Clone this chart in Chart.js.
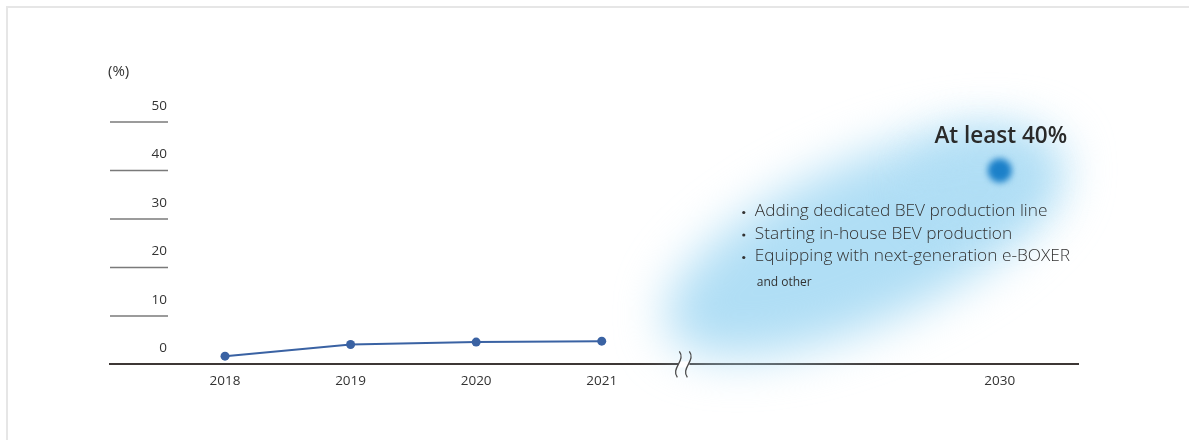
<!DOCTYPE html>
<html>
<head>
<meta charset="utf-8">
<script src="https://cdn.jsdelivr.net/npm/chart.js@4.4.0/dist/chart.umd.min.js"></script>
<style>
  html, body { margin: 0; padding: 0; background: #fff; }
  #wrap { position: relative; width: 1195px; height: 440px; overflow: hidden; }
  #wrap canvas { position: absolute; left: 0; top: 0; }
  #frame {
    position: absolute; left: 6px; top: 6px; width: 1183px; height: 440px;
    border-top: 2px solid #e6e6e6; border-left: 2px solid #e6e6e6;
    box-sizing: border-box; pointer-events: none;
  }
</style>
</head>
<body>
<div id="wrap">
  <canvas id="chart" width="1195" height="440"></canvas>
  <div id="frame"></div>
</div>
<script>
// Electrified vehicle share of production (%)
const years = ['2018', '2019', '2020', '2021', '2030'];
const actualShare = [1.7, 4.1, 4.6, 4.8];
const targetShare = 40;
const yTickValues = [0, 10, 20, 30, 40, 50];
const unitLabel = '(%)';
const targetTitle = 'At least 40%';
const initiatives = [
  'Adding dedicated BEV production line',
  'Starting in-house BEV production',
  'Equipping with next-generation e-BOXER'
];
const initiativesNote = 'and other';

// Horizontal slots: one per year, with extra room reserved for the axis break
const BREAK_GAP = 2.17;
const slotOf = i => (i < actualShare.length ? i : i + BREAK_GAP);
const BREAK_SLOT = 3.65;

const FONT = '"Open Sans", Lato, sans-serif';
const LINE_BLUE = '#3a62a3';
const DOT_BLUE = '#1b80c9';

const decorations = {
  id: 'decorations',
  beforeDatasetsDraw(chart) {
    // soft halo behind the 2030 goal
    const ctx = chart.ctx;
    const pt = chart.getDatasetMeta(1).data[0];
    ctx.save();
    ctx.filter = 'blur(24px)';
    ctx.fillStyle = '#b0def5';
    ctx.translate(pt.x - 135, pt.y + 72);
    ctx.rotate(-24 * Math.PI / 180);
    ctx.beginPath();
    ctx.ellipse(0, 0, 215, 80, 0, 0, Math.PI * 2);
    ctx.fill();
    ctx.restore();
    ctx.save();
    ctx.filter = 'blur(22px)';
    ctx.fillStyle = 'rgba(176, 222, 245, 0.7)';
    ctx.beginPath();
    ctx.ellipse(pt.x - 20, pt.y + 10, 65, 45, 0, 0, Math.PI * 2);
    ctx.fill();
    ctx.restore();
  },
  beforeDatasetDraw(chart, args) {
    if (args.index === 1) {
      chart.ctx.save();
      chart.ctx.filter = 'blur(3px)';
    }
  },
  afterDatasetDraw(chart, args) {
    if (args.index === 1) chart.ctx.restore();
  },
  afterDraw(chart) {
    const ctx = chart.ctx;
    const xs = chart.scales.x, ys = chart.scales.y;
    const left = chart.chartArea.left;
    ctx.save();

    // short value guides with their labels sitting above them
    ctx.font = '13.5px ' + FONT;
    ctx.fillStyle = '#333';
    ctx.textAlign = 'right';
    ctx.textBaseline = 'middle';
    yTickValues.forEach(v => {
      const y = ys.getPixelForValue(v);
      if (v > 0) {
        ctx.strokeStyle = '#7a7a7a';
        ctx.lineWidth = 1.5;
        ctx.beginPath();
        ctx.moveTo(left, y);
        ctx.lineTo(left + 58, y);
        ctx.stroke();
      }
      ctx.fillText(String(v), left + 57, y - 16);
    });
    ctx.textAlign = 'left';
    ctx.font = '15px ' + FONT;
    ctx.fillText(unitLabel, left - 2, ys.getPixelForValue(50) - 50);

    // axis break between 2021 and 2030
    const bx = xs.getPixelForValue(BREAK_SLOT);
    const by = ys.getPixelForValue(0);
    ctx.fillStyle = '#fff';
    ctx.fillRect(bx - 5, by - 3, 11, 6);
    ctx.strokeStyle = '#4a4a4a';
    ctx.lineWidth = 1.3;
    [-5, 5].forEach(dx => {
      const cx = bx + dx;
      ctx.beginPath();
      ctx.moveTo(cx + 1, by - 13);
      ctx.bezierCurveTo(cx + 8, by - 4, cx - 8, by + 4, cx - 1, by + 13);
      ctx.stroke();
    });

    // 2030 goal text
    const pt = chart.getDatasetMeta(1).data[0];
    ctx.fillStyle = '#2a2a2a';
    ctx.textAlign = 'center';
    ctx.textBaseline = 'middle';
    ctx.font = '600 22.5px ' + FONT;
    ctx.fillText(targetTitle, pt.x + 1, pt.y - 34);

    ctx.textAlign = 'left';
    ctx.fillStyle = '#333';
    ctx.font = '300 17.3px ' + FONT;
    initiatives.forEach((t, i) => {
      const y = pt.y + 41 + i * 22.5;
      ctx.beginPath();
      ctx.arc(pt.x - 256, y + 1, 1.6, 0, Math.PI * 2);
      ctx.fill();
      ctx.fillText(t, pt.x - 245, y);
    });
    ctx.font = '12px ' + FONT;
    ctx.fillText(initiativesNote, pt.x - 243, pt.y + 112);

    ctx.restore();
  }
};

new Chart(document.getElementById('chart'), {
  type: 'line',
  data: {
    datasets: [
      {
        data: actualShare.map((v, i) => ({ x: slotOf(i), y: v })),
        borderColor: LINE_BLUE,
        backgroundColor: LINE_BLUE,
        borderWidth: 2,
        pointRadius: 4.5,
        pointBackgroundColor: LINE_BLUE,
        pointBorderWidth: 0,
        tension: 0,
        clip: false
      },
      {
        data: [{ x: slotOf(years.length - 1), y: targetShare }],
        showLine: false,
        pointRadius: 12,
        pointBackgroundColor: DOT_BLUE,
        pointBorderWidth: 0,
        clip: false
      }
    ]
  },
  options: {
    responsive: false,
    animation: false,
    events: [],
    layout: { padding: { left: 110, right: 117, top: 122, bottom: 41.4 } },
    plugins: { legend: { display: false }, tooltip: { enabled: false } },
    scales: {
      x: {
        type: 'linear',
        min: -0.916,
        max: 6.793,
        grid: { display: false, drawTicks: false },
        border: { display: true, color: '#3d3735', width: 2 },
        afterBuildTicks: s => { s.ticks = years.map((_, i) => ({ value: slotOf(i) })); },
        ticks: {
          autoSkip: false,
          maxRotation: 0,
          padding: 9,
          color: '#333',
          font: { family: FONT, size: 13.5 },
          callback: (v, i) => years[i]
        }
      },
      y: {
        type: 'linear',
        min: 0,
        max: 50,
        display: false
      }
    }
  },
  plugins: [decorations]
});
</script>
</body>
</html>
